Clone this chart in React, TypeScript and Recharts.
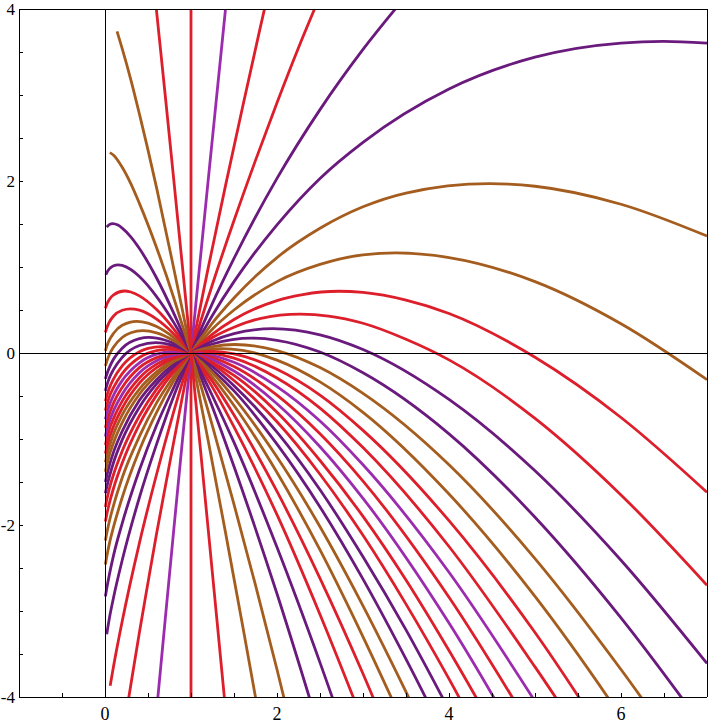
import { LineChart, Line, XAxis, YAxis, ReferenceLine } from "recharts"

// one family of curves, all passing through the node at (1, 0)
// each curve: [x, y] points, left end -> right end (turning points included)
const curve00 = [[1, -4.5], [1, 4.5]]
const curve01 = [[0.6, -4.16], [0.7, -3.1], [0.8, -2.05], [0.9, -1.02], [1, 0], [1.1, 1.01], [1.2, 2.01], [1.3, 3.0], [1.45, 4.48]]
const curve02 = [[0.25, -4.17], [0.3, -3.86], [0.4, -3.25], [0.5, -2.67], [0.6, -2.1], [0.7, -1.56], [0.8, -1.03], [0.9, -0.51], [1, 0], [1.2, 0.99], [1.4, 1.94], [1.6, 2.86], [1.8, 3.76], [1.95, 4.42]]
const curve03 = [[0.06, -3.87], [0.1, -3.64], [0.2, -3.12], [0.4, -2.21], [0.6, -1.41], [0.8, -0.68], [0.9, -0.34], [1, 0], [1.25, 0.8], [1.5, 1.54], [1.75, 2.24], [2, 2.91], [2.25, 3.55], [2.5, 4.15]]
const curve04 = [[0.02, -3.27], [0.05, -3.09], [0.1, -2.84], [0.2, -2.41], [0.4, -1.68], [0.6, -1.06], [0.8, -0.5], [0.9, -0.25], [1, 0], [1.25, 0.58], [1.5, 1.1], [2, 2.03], [2.5, 2.83], [3, 3.53], [3.5, 4.15]]
const curve05 = [[0.005, -2.83], [0.02, -2.74], [0.05, -2.58], [0.1, -2.35], [0.2, -1.98], [0.4, -1.36], [0.6, -0.84], [0.8, -0.4], [0.9, -0.19], [1, 0], [1.25, 0.44], [1.5, 0.83], [2, 1.49], [2.5, 2.03], [3, 2.45], [4, 3.07], [5, 3.44], [6, 3.604], [6.49, 3.623], [7, 3.604]]
const curve06 = [[0.005, -2.46], [0.02, -2.37], [0.05, -2.22], [0.1, -2.02], [0.2, -1.68], [0.4, -1.13], [0.6, -0.69], [0.8, -0.32], [0.9, -0.16], [1, 0], [1.25, 0.35], [1.5, 0.64], [2, 1.11], [2.5, 1.45], [3, 1.7], [3.5, 1.86], [4.47, 1.969], [5, 1.939], [6, 1.73], [7, 1.36]]
const curve07 = [[0.005, -2.18], [0.02, -2.1], [0.05, -1.96], [0.1, -1.77], [0.2, -1.45], [0.4, -0.97], [0.6, -0.58], [0.8, -0.27], [0.9, -0.13], [1, 0], [1.25, 0.28], [1.5, 0.5], [2, 0.83], [2.5, 1.03], [3, 1.141], [3.38, 1.164], [4, 1.11], [5, 0.83], [6, 0.34], [7, -0.31]]
const curve08 = [[0.005, -1.96], [0.02, -1.88], [0.05, -1.75], [0.1, -1.57], [0.2, -1.28], [0.4, -0.83], [0.6, -0.49], [0.8, -0.22], [0.9, -0.11], [1, 0], [1.25, 0.22], [1.5, 0.39], [2, 0.61], [2.3, 0.68], [2.72, 0.718], [3, 0.704], [3.5, 0.615], [4, 0.46], [5, -0.05], [6, -0.75], [7, -1.62]]
const curve09 = [[0.005, -1.79], [0.02, -1.71], [0.05, -1.58], [0.1, -1.41], [0.2, -1.14], [0.4, -0.73], [0.6, -0.42], [0.8, -0.19], [0.9, -0.09], [1, 0], [1.25, 0.18], [1.5, 0.3], [1.8, 0.4], [2.27, 0.451], [2.6, 0.43], [3, 0.346], [3.5, 0.16], [4, -0.08], [5, -0.76], [6, -1.65], [7, -2.7]]
const curve10 = [[0.005, -1.63], [0.02, -1.56], [0.05, -1.44], [0.1, -1.27], [0.2, -1.01], [0.4, -0.63], [0.6, -0.36], [0.8, -0.16], [0.9, -0.07], [1, 0], [1.25, 0.14], [1.5, 0.226], [1.95, 0.283], [2.5, 0.212], [3, 0.041], [4, -0.54], [5, -1.37], [6, -2.41], [7, -3.61]]
const curve11 = [[0.005, -1.5], [0.02, -1.43], [0.05, -1.31], [0.1, -1.15], [0.2, -0.91], [0.4, -0.55], [0.6, -0.31], [0.8, -0.13], [0.9, -0.06], [1, 0], [1.25, 0.105], [1.71, 0.172], [2, 0.148], [2.5, 0.011], [3, -0.23], [4, -0.94], [5, -1.91], [6, -3.08], [7, -4.41]]
const curve12 = [[0.005, -1.38], [0.02, -1.31], [0.05, -1.19], [0.1, -1.04], [0.2, -0.81], [0.4, -0.48], [0.6, -0.26], [0.8, -0.1], [0.9, -0.05], [1, 0], [1.25, 0.075], [1.51, 0.099], [2, 0.028], [2.5, -0.17], [3, -0.47], [4, -1.3], [5, -2.39], [6, -3.68], [7, -5.1]]
const curve13 = [[0.005, -1.27], [0.02, -1.2], [0.05, -1.09], [0.1, -0.94], [0.2, -0.72], [0.4, -0.42], [0.6, -0.22], [0.8, -0.08], [0.9, -0.04], [1, 0], [1.15, 0.035], [1.35, 0.051], [1.6, 0.03], [2, -0.083], [2.5, -0.336], [3, -0.69], [4, -1.64], [5, -2.83], [6, -4.23], [7, -5.8]]
const curve14 = [[0.005, -1.17], [0.02, -1.1], [0.05, -0.99], [0.1, -0.85], [0.2, -0.64], [0.4, -0.35], [0.6, -0.17], [0.8, -0.06], [0.9, -0.03], [1, 0], [1.22, 0.021], [1.5, -0.009], [2, -0.19], [2.5, -0.49], [3, -0.9], [4, -1.95], [5, -3.25], [6, -4.76]]
const curve15 = [[0.005, -1.07], [0.02, -1.0], [0.05, -0.89], [0.1, -0.76], [0.2, -0.56], [0.4, -0.29], [0.6, -0.13], [0.8, -0.04], [0.9, -0.02], [1, 0], [1.1, 0.005], [1.25, -0.004], [1.5, -0.059], [2, -0.29], [2.5, -0.64], [3, -1.1], [4, -2.25], [5, -3.65], [6, -5.16]]
const curve16 = [[0.005, -0.97], [0.02, -0.9], [0.05, -0.8], [0.1, -0.67], [0.2, -0.48], [0.4, -0.23], [0.6, -0.09], [0.8, -0.022], [0.9, -0.005], [1, 0], [1.25, -0.029], [1.5, -0.108], [2, -0.39], [2.5, -0.79], [3, -1.3], [4, -2.55], [5, -4.05]]
const curve17 = [[0.005, -0.87], [0.02, -0.81], [0.05, -0.71], [0.1, -0.58], [0.2, -0.4], [0.4, -0.17], [0.6, -0.054], [0.8, -0.002], [0.906, 0.005], [1, 0], [1.25, -0.054], [1.5, -0.157], [2, -0.49], [2.5, -0.94], [3, -1.49], [4, -2.84], [5, -4.44]]
const curve18 = [[0.005, -0.77], [0.02, -0.71], [0.05, -0.61], [0.1, -0.49], [0.2, -0.32], [0.4, -0.114], [0.6, -0.014], [0.7, 0.009], [0.82, 0.019], [0.9, 0.015], [1, 0], [1.25, -0.08], [1.5, -0.21], [2, -0.59], [2.5, -1.09], [3, -1.69], [4, -3.14], [5, -4.84]]
const curve19 = [[0.005, -0.67], [0.02, -0.61], [0.05, -0.51], [0.1, -0.4], [0.2, -0.24], [0.4, -0.052], [0.6, 0.028], [0.74, 0.042], [0.9, 0.025], [1, 0], [1.25, -0.11], [1.5, -0.26], [2, -0.69], [2.5, -1.25], [3, -1.9], [3.5, -2.64], [4, -3.46], [4.5, -4.33]]
const curve20 = [[0.005, -0.56], [0.02, -0.5], [0.05, -0.41], [0.1, -0.3], [0.2, -0.15], [0.4, 0.015], [0.5, 0.054], [0.66, 0.075], [0.8, 0.061], [0.9, 0.036], [1, 0], [1.25, -0.13], [1.5, -0.32], [2, -0.8], [2.5, -1.41], [3, -2.12], [3.5, -2.92], [4, -3.79], [4.5, -4.72]]
const curve21 = [[0.005, -0.44], [0.02, -0.38], [0.05, -0.29], [0.1, -0.19], [0.2, -0.05], [0.4, 0.087], [0.59, 0.121], [0.8, 0.085], [0.9, 0.048], [1, 0], [1.25, -0.16], [1.5, -0.38], [2, -0.92], [2.5, -1.59], [3, -2.37], [3.5, -3.22], [4, -4.15]]
const curve22 = [[0.005, -0.3], [0.02, -0.25], [0.05, -0.17], [0.1, -0.07], [0.2, 0.056], [0.4, 0.167], [0.51, 0.181], [0.6, 0.174], [0.8, 0.112], [0.9, 0.062], [1, 0], [1.25, -0.2], [1.5, -0.44], [2, -1.06], [2.5, -1.79], [3, -2.63], [3.5, -3.56], [4, -4.55]]
const curve23 = [[0.005, -0.15], [0.02, -0.1], [0.05, -0.02], [0.1, 0.07], [0.2, 0.18], [0.3, 0.236], [0.44, 0.261], [0.6, 0.235], [0.8, 0.143], [0.9, 0.077], [1, 0], [1.25, -0.23], [1.5, -0.52], [2, -1.21], [2.5, -2.02], [3, -2.94], [3.5, -3.94], [4, -5.0]]
const curve24 = [[0.005, 0.026], [0.02, 0.078], [0.05, 0.15], [0.1, 0.23], [0.2, 0.322], [0.37, 0.368], [0.5, 0.347], [0.6, 0.307], [0.8, 0.179], [0.9, 0.095], [1, 0], [1.25, -0.28], [1.5, -0.61], [2, -1.39], [2.5, -2.29], [3, -3.3], [3.5, -4.38]]
const curve25 = [[0.005, 0.24], [0.02, 0.29], [0.05, 0.36], [0.1, 0.43], [0.2, 0.497], [0.296, 0.514], [0.4, 0.498], [0.6, 0.394], [0.8, 0.222], [0.9, 0.117], [1, 0], [1.25, -0.33], [1.5, -0.72], [2, -1.61], [2.5, -2.62], [3, -3.73], [3.5, -4.93]]
const curve26 = [[0.005, 0.52], [0.02, 0.565], [0.05, 0.622], [0.1, 0.677], [0.224, 0.721], [0.3, 0.709], [0.4, 0.664], [0.6, 0.505], [0.8, 0.278], [0.9, 0.144], [1, 0], [1.25, -0.4], [1.5, -0.86], [2, -1.88], [2.5, -3.04], [3, -4.29]]
const curve27 = [[0.01, 0.91], [0.02, 0.932], [0.05, 0.977], [0.1, 1.014], [0.154, 1.025], [0.2, 1.019], [0.3, 0.971], [0.4, 0.889], [0.6, 0.655], [0.8, 0.353], [0.9, 0.182], [1, 0], [1.25, -0.5], [1.5, -1.04], [2, -2.26], [2.5, -3.6], [3, -5.04]]
const curve28 = [[0.02, 1.464], [0.05, 1.493], [0.089, 1.504], [0.15, 1.487], [0.2, 1.453], [0.3, 1.351], [0.4, 1.215], [0.6, 0.872], [0.8, 0.461], [0.9, 0.236], [1, 0], [1.25, -0.63], [1.5, -1.32], [2, -2.8], [2.5, -4.41]]
const curve29 = [[0.056, 2.33], [0.1, 2.3], [0.2, 2.16], [0.3, 1.97], [0.4, 1.74], [0.6, 1.225], [0.8, 0.64], [0.9, 0.32], [1, 0], [1.25, -0.85], [1.5, -1.76], [1.75, -2.7], [2, -3.68], [2.25, -4.7]]
const curve30 = [[0.14, 3.74], [0.2, 3.54], [0.3, 3.18], [0.4, 2.78], [0.6, 1.92], [0.8, 0.98], [0.9, 0.5], [1, 0], [1.2, -1.02], [1.4, -2.08], [1.6, -3.17], [1.8, -4.28]]
const curve31 = [[0.5, 4.94], [0.6, 3.97], [0.7, 3.0], [0.8, 2.01], [0.9, 1.01], [1, 0], [1.1, -1.02], [1.2, -2.05], [1.3, -3.09], [1.4, -4.13]]

const curveColors = [
  "red", "magenta", "red", "red", "purple", "purple", "brown", "brown",
  "red", "red", "purple", "purple", "brown", "brown", "red", "red",
  "magenta", "red", "magenta", "red", "red", "purple", "purple", "brown",
  "brown", "red", "red", "purple", "purple", "brown", "brown", "red",
]

const xTicks = [-1, -0.5, 0, 0.5, 1, 1.5, 2, 2.5, 3, 3.5, 4, 4.5, 5, 5.5, 6, 6.5, 7]
const yTicks = [-4, -3.5, -3, -2.5, -2, -1.5, -1, -0.5, 0, 0.5, 1, 1.5, 2, 2.5, 3, 3.5, 4]

const palette = {
  red: "#dd1f2c",
  magenta: "#9c2cae",
  purple: "#6a1a7c",
  brown: "#a45d1e",
}

const curves = [
  curve00, curve01, curve02, curve03, curve04, curve05, curve06, curve07,
  curve08, curve09, curve10, curve11, curve12, curve13, curve14, curve15,
  curve16, curve17, curve18, curve19, curve20, curve21, curve22, curve23,
  curve24, curve25, curve26, curve27, curve28, curve29, curve30, curve31,
]

const evenLabel = (v: number) => (Number.isInteger(v) && v % 2 === 0 ? String(v) : "")

const xTickFont = { fontFamily: "Liberation Serif", fontSize: 18, fill: "#000" }
const yTickFont = { fontFamily: "Liberation Serif", fontSize: 17, fill: "#000" }
const frameLine = { stroke: "#000", strokeWidth: 1, shapeRendering: "crispEdges" }

export default function App() {
  return (
    <div style={{ position: "absolute", left: 0, top: 0 }}>
      <LineChart width={728} height={728} margin={{ top: 0, right: 0, bottom: 1, left: 0 }}>
        <XAxis
          type="number"
          dataKey="x"
          domain={[-1, 7]}
          allowDataOverflow
          ticks={xTicks}
          interval={0}
          height={30}
          tickSize={-4}
          tickMargin={14}
          tickFormatter={evenLabel}
          tick={xTickFont}
          axisLine={frameLine}
          tickLine={frameLine}
        />
        <XAxis
          xAxisId="top"
          orientation="top"
          type="number"
          dataKey="x"
          domain={[-1, 7]}
          allowDataOverflow
          ticks={xTicks}
          interval={0}
          height={9}
          tickSize={-4}
          tick={false}
          axisLine={frameLine}
          tickLine={frameLine}
        />
        <YAxis
          type="number"
          domain={[-4, 4]}
          allowDataOverflow
          ticks={yTicks}
          interval={0}
          width={19}
          tickSize={-4}
          tickMargin={8}
          tickFormatter={evenLabel}
          tick={yTickFont}
          axisLine={frameLine}
          tickLine={frameLine}
        />
        <YAxis
          yAxisId="right"
          orientation="right"
          type="number"
          domain={[-4, 4]}
          allowDataOverflow
          ticks={yTicks}
          interval={0}
          width={21}
          tickSize={-4}
          tick={false}
          axisLine={frameLine}
          tickLine={frameLine}
        />
        {curves.map((pts, i) => (
          <Line
            key={i}
            data={pts.map(([x, y]) => ({ x, y }))}
            dataKey="y"
            type={i === 0 ? "linear" : "monotone"}
            stroke={palette[curveColors[i]]}
            strokeWidth={2.8}
            dot={false}
            activeDot={false}
            isAnimationActive={false}
          />
        ))}
        <ReferenceLine x={0} stroke="#000" strokeWidth={1} shapeRendering="crispEdges" />
        <ReferenceLine y={0} stroke="#000" strokeWidth={1} shapeRendering="crispEdges" />
      </LineChart>
    </div>
  )
}
